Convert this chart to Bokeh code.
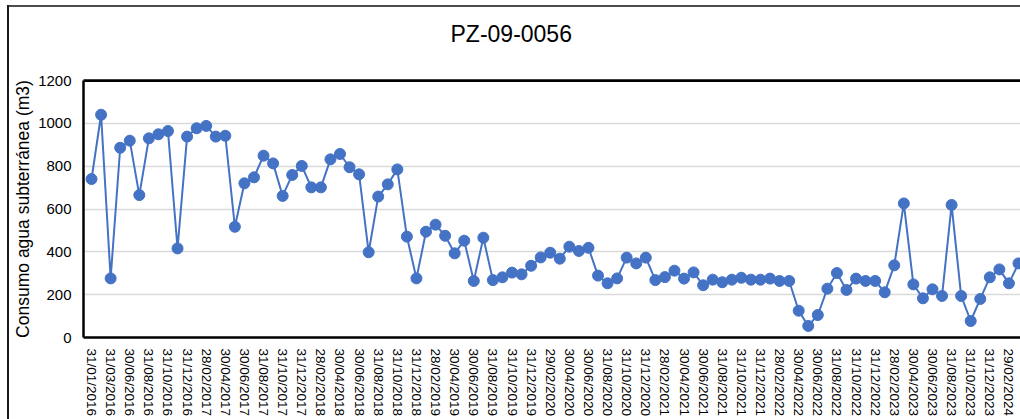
from bokeh.plotting import figure
from bokeh.models import Range1d, FixedTicker, LinearAxis, Span
from bokeh.embed import file_html
from bokeh.resources import INLINE

title = "PZ-09-0056"
y_label = "Consumo agua subterránea (m3)"

tick_labels = ["31/01/2016","31/03/2016","30/06/2016","31/08/2016","31/10/2016","31/12/2016",
               "28/02/2017","30/04/2017","30/06/2017","31/08/2017","31/10/2017","31/12/2017",
               "28/02/2018","30/04/2018","30/06/2018","31/08/2018","31/10/2018","31/12/2018",
               "28/02/2019","30/04/2019","30/06/2019","31/08/2019","31/10/2019","31/12/2019",
               "29/02/2020","30/04/2020","30/06/2020","31/08/2020","31/10/2020","31/12/2020",
               "28/02/2021","30/04/2021","30/06/2021","31/08/2021","31/10/2021","31/12/2021",
               "28/02/2022","30/04/2022","30/06/2022","31/08/2022","31/10/2022","31/12/2022",
               "28/02/2023","30/04/2023","30/06/2023","31/08/2023","31/10/2023","31/12/2023",
               "29/02/2024"]

consumo = [740, 1040, 276, 886, 919, 665, 930, 949, 964, 416,
           938, 977, 988, 938, 942, 517, 720, 748, 849, 813,
           661, 759, 801, 701, 701, 832, 857, 795, 762, 398,
           658, 715, 785, 471, 276, 494, 527, 475, 393, 452,
           264, 466, 268, 281, 303, 295, 335, 374, 396, 368,
           424, 404, 419, 289, 253, 276, 373, 346, 373, 268,
           282, 312, 275, 304, 244, 270, 258, 270, 279, 270,
           270, 275, 264, 264, 125, 54, 105, 228, 301, 222,
           275, 264, 264, 211, 337, 626, 248, 183, 225, 194,
           619, 194, 77, 180, 281, 318, 253, 346]

y_ticks = [0, 200, 400, 600, 800, 1000, 1200]

FONT = "Liberation Sans"
BLUE = "#4472C4"

idx = list(range(len(consumo)))
label_idx = [2 * i for i in range(len(tick_labels))]

p = figure(width=1020, height=419, output_backend="svg", toolbar_location=None,
           x_range=Range1d(-0.84, 97.21), y_range=Range1d(0, 1200),
           min_border_left=83, min_border_right=0, min_border_top=80, min_border_bottom=82)

p.title.text = title
p.title.text_font = FONT
p.title.text_font_size = "23px"
p.title.text_font_style = "normal"
p.title.text_color = "#000000"
p.title.align = "left"
p.title.offset = 367
p.title.standoff = 10

p.outline_line_color = None
p.background_fill_color = "white"
p.border_fill_color = None
# chart-area border (left and top edges), drawn behind the transparent border area
p.styles = {"background": "linear-gradient(#1a1a1a, #1a1a1a) 7px 5px / 2px 100% no-repeat, "
                          "linear-gradient(#4d4d4d, #4d4d4d) 7px 5px / 100% 2px no-repeat, white"}

p.ygrid.ticker = FixedTicker(ticks=y_ticks)
p.ygrid.grid_line_color = "#D9D9D9"
p.ygrid.grid_line_width = 1.5
p.xgrid.grid_line_color = None

p.line(idx, consumo, line_color=BLUE, line_width=2)
p.scatter(idx, consumo, size=11, fill_color=BLUE, line_color=BLUE)

# x axis
xa = p.xaxis[0]
xa.ticker = FixedTicker(ticks=label_idx)
xa.major_label_overrides = {i: s for i, s in zip(label_idx, tick_labels)}
xa.major_label_orientation = "vertical"
xa.major_label_text_font = FONT
xa.major_label_text_font_size = "13.5px"
xa.major_label_text_color = "#000000"
xa.major_label_standoff = 11
xa.major_tick_in = 0
xa.major_tick_out = 0
xa.minor_tick_in = 0
xa.minor_tick_out = 0
xa.major_tick_line_color = None
xa.minor_tick_line_color = None
xa.axis_line_color = "black"
xa.axis_line_width = 2.5

# y axis
ya = p.yaxis[0]
ya.ticker = FixedTicker(ticks=y_ticks)
ya.axis_label = y_label
ya.axis_label_text_font = FONT
ya.axis_label_text_font_size = "17.5px"
ya.axis_label_text_font_style = "normal"
ya.axis_label_text_color = "#000000"
ya.axis_label_standoff = 2
ya.major_label_text_font = FONT
ya.major_label_text_font_size = "15px"
ya.major_label_text_color = "#000000"
ya.major_label_standoff = 12
ya.major_tick_in = 0
ya.major_tick_out = 0
ya.minor_tick_in = 0
ya.minor_tick_out = 0
ya.major_tick_line_color = None
ya.minor_tick_line_color = None
ya.axis_line_color = "black"
ya.axis_line_width = 2.5

# empty top axis: keeps the title away from the plot area
top = LinearAxis(ticker=FixedTicker(ticks=[]), major_tick_line_color=None,
                 minor_tick_line_color=None, major_tick_in=0, major_tick_out=0,
                 minor_tick_in=0, minor_tick_out=0, major_label_text_font_size="0px",
                 major_label_standoff=0, axis_line_color="black", axis_line_width=2.5,
                 axis_label="\u00a0", axis_label_text_font_size="1px",
                 axis_label_standoff=25)
p.add_layout(top, "above")

# top edge of the plot area
p.add_layout(Span(location=y_ticks[-1], dimension="width", line_color="black", line_width=3))

open("out.html", "w").write(file_html(p, INLINE))
